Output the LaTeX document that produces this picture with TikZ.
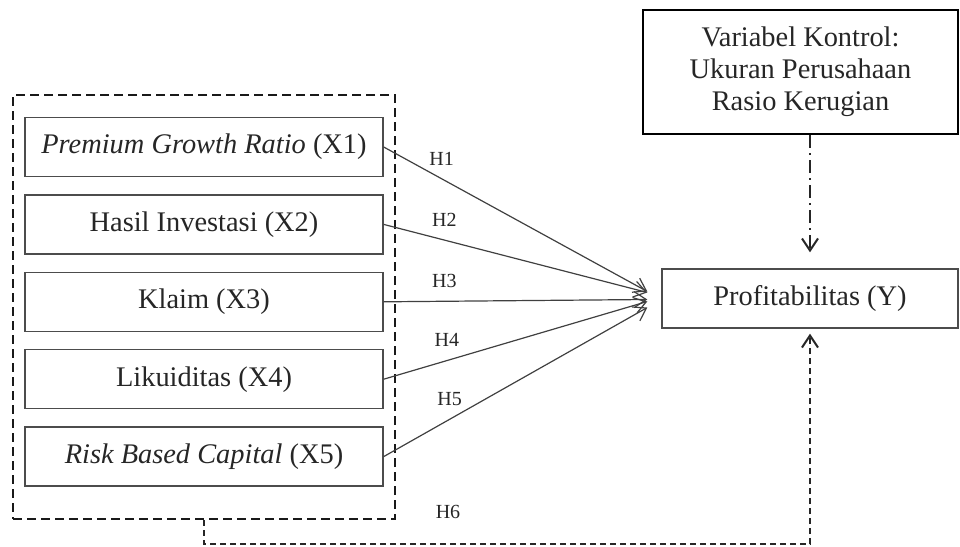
\documentclass[tikz,border=0pt]{standalone}
\usepackage{fontspec}
\setmainfont{Liberation Serif}
\usetikzlibrary{arrows.meta,positioning}

\begin{document}
\begin{tikzpicture}[
    x=0.5pt, y=-0.5pt,
    varbox/.style={rectangle, draw=black!70, line width=0.7pt, minimum width=179pt, minimum height=29.5pt, inner sep=0pt, align=center, font=\fontsize{14.2}{16}\selectfont, text=black!85},
    groupbox/.style={rectangle, draw=black!90, line width=1.2pt, dash pattern=on 4.5pt off 2.5pt, minimum width=191pt, minimum height=212pt, inner sep=0pt},
    arrow/.style={-{Straight Barb[length=6pt,width=8pt]}, draw=black!75, line width=0.6pt},
    ctrlarrow/.style={arrow, draw=black!85, line width=1pt, dash pattern=on 6.5pt off 2.5pt on 1pt off 2.5pt},
    h6arrow/.style={arrow, draw=black!85, line width=1pt, dash pattern=on 3pt off 2pt},
    hlabel/.style={font=\fontsize{10}{12}\selectfont, text=black!85, inner sep=1pt}
]
\useasboundingbox (0,0) rectangle (960,547);

% Independent variables
\node[groupbox] (group) at (204,307) {};
\node[varbox] (x1) at (204,147) {\textit{Premium Growth Ratio} (X1)};
\node[varbox, below=8.5pt of x1] (x2) {Hasil Investasi (X2)};
\node[varbox, below=8.5pt of x2] (x3) {Klaim (X3)};
\node[varbox, below=8.5pt of x3] (x4) {Likuiditas (X4)};
\node[varbox, below=8.5pt of x4] (x5) {\textit{Risk Based Capital} (X5)};

% Dependent variable
\node[varbox, minimum width=148pt] (prof) at (810,298.5) {Profitabilitas (Y)};

% Control variables
\node[varbox, draw=black, line width=1pt, minimum width=157.5pt, minimum height=62pt] (ctrl) at (800.5,72) {Variabel Kontrol:\\Ukuran Perusahaan\\Rasio Kerugian};

% Meeting point of the hypotheses
\coordinate[left=7pt of prof.west] (hub);

% Hypotheses
\draw[arrow] (x1.east) -- node[hlabel, pos=.22, above=5.5pt] {H1} ([yshift=3.5pt]hub);
\draw[arrow] (x2.east) -- node[hlabel, pos=.23, above=5.5pt] {H2} ([yshift=3pt]hub);
\draw[arrow] (x3.east) -- node[hlabel, pos=.23, above=5.5pt] {H3} ([yshift=-0.5pt]hub);
\draw[arrow] (x4.east) -- node[hlabel, pos=.24, above=5.5pt] {H4} ([yshift=-1.5pt]hub);
\draw[arrow] (x5.east) -- node[hlabel, pos=.25, above=5.5pt] {H5} ([yshift=-4.5pt]hub);
\draw[h6arrow] (group.south) -- ++(0,24) -| ([yshift=-2.5pt]prof.south);
\node[hlabel] (h6) at (448,512) {H6};

% Control
\draw[ctrlarrow] (ctrl.south -| prof.north) -- ([yshift=8pt]prof.north);

\end{tikzpicture}
\end{document}
